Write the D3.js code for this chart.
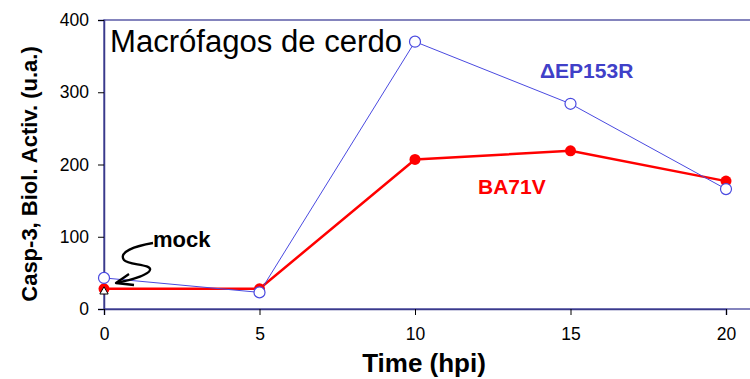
<!DOCTYPE html>
<html><head><meta charset="utf-8">
<script src="https://cdn.jsdelivr.net/npm/d3@7"></script>
<style>body{margin:0;background:#fff}svg{display:block;font-family:"Liberation Sans",Arial,sans-serif}</style>
</head><body><svg id="c" width="750" height="379"></svg>
<script>
const times = [0, 5, 10, 15, 20];
const ba71v = [28, 28, 207, 219, 177];
const dEP153R = [43, 23, 370, 284, 166];
const mock = [{t: 0, v: 31}];
const yTicks = [0, 100, 200, 300, 400];
const xTicks = [0, 5, 10, 15, 20];

const svg = d3.select("#c");
const x = d3.scaleLinear().domain([0, 20]).range([104, 726]);
const y = d3.scaleLinear().domain([0, 400]).range([309, 20]);

// frame
svg.append("rect").attr("x", 104).attr("y", 20).attr("width", 700).attr("height", 289)
  .attr("fill", "none").attr("stroke", "#5c5ca8").attr("stroke-width", 1.5);

const yAxis = svg.append("g").attr("transform", "translate(104,0)")
  .call(d3.axisLeft(y).tickValues(yTicks).tickSize(6).tickPadding(9).tickFormat(d3.format("d")));
yAxis.select(".domain").attr("stroke", "#3a3a8a").attr("stroke-width", 1.5);
yAxis.selectAll(".tick line").attr("stroke", "#000");
yAxis.selectAll("text").attr("font-size", 17.5).attr("fill", "#000")
  .attr("font-family", "Liberation Sans, Arial, sans-serif");

const xAxis = svg.append("g").attr("transform", "translate(0,309)")
  .call(d3.axisBottom(x).tickValues(xTicks).tickSize(6).tickPadding(13).tickFormat(d3.format("d")));
xAxis.select(".domain").attr("stroke", "#3a3a8a").attr("stroke-width", 1.5);
xAxis.selectAll(".tick line").attr("stroke", "#000");
xAxis.selectAll("text").attr("font-size", 17.5).attr("fill", "#000")
  .attr("font-family", "Liberation Sans, Arial, sans-serif");

const line = d3.line().x((d, i) => x(times[i])).y(d => y(d));

svg.append("path").datum(ba71v).attr("d", line).attr("fill", "none")
  .attr("stroke", "#ff0000").attr("stroke-width", 2.5);
svg.append("path").datum(dEP153R).attr("d", line).attr("fill", "none")
  .attr("stroke", "#4a4ae0").attr("stroke-width", 1);

svg.selectAll(".rd").data(ba71v).enter().append("circle")
  .attr("cx", (d, i) => x(times[i])).attr("cy", d => y(d)).attr("r", 5.5)
  .attr("fill", "#ff0000");
svg.selectAll(".bl").data(dEP153R).enter().append("circle")
  .attr("cx", (d, i) => x(times[i])).attr("cy", d => y(d)).attr("r", 5.5)
  .attr("fill", "#fff").attr("stroke", "#4a4ae0").attr("stroke-width", 1.2);

// mock triangle
svg.selectAll(".mk").data(mock).enter().append("path")
  .attr("d", d3.symbol().type(d3.symbolTriangle).size(30))
  .attr("transform", d => `translate(${x(d.t)},${y(d.v) + 5})`)
  .attr("fill", "#fff").attr("stroke", "#000").attr("stroke-width", 1);

// arrow
svg.append("path")
  .attr("d", "M153,243 C135,246 118,252 124,260 C128,265 152,264 150,270 C148,276 128,280 117,283")
  .attr("fill", "none").attr("stroke", "#000").attr("stroke-width", 2.3);
svg.append("path")
  .attr("d", "M129,274 L116,283 L134,285")
  .attr("fill", "none").attr("stroke", "#000").attr("stroke-width", 2.3).attr("stroke-linejoin", "round");

svg.append("text").attr("x", 153).attr("y", 247).attr("font-size", 22).attr("font-weight", "bold")
  .attr("fill", "#000").text("mock");

svg.append("text").attr("x", 110).attr("y", 52).attr("font-size", 31).attr("fill", "#000")
  .attr("textLength", 292).attr("lengthAdjust", "spacingAndGlyphs")
  .text("Macrófagos de cerdo");
svg.append("text").attr("x", 540).attr("y", 78).attr("font-size", 21).attr("font-weight", "bold")
  .attr("fill", "#4040c8").text("ΔEP153R");
svg.append("text").attr("x", 478).attr("y", 194).attr("font-size", 21).attr("font-weight", "bold")
  .attr("fill", "#ff0000").text("BA71V");

svg.append("text").attr("x", 424).attr("y", 372).attr("text-anchor", "middle")
  .attr("font-size", 26).attr("font-weight", "bold").attr("fill", "#000").text("Time (hpi)");
svg.append("text").attr("transform", "translate(37,174) rotate(-90)").attr("text-anchor", "middle")
  .attr("font-size", 22).attr("font-weight", "bold").attr("fill", "#000")
  .text("Casp-3, Biol. Activ. (u.a.)");
</script></body></html>
